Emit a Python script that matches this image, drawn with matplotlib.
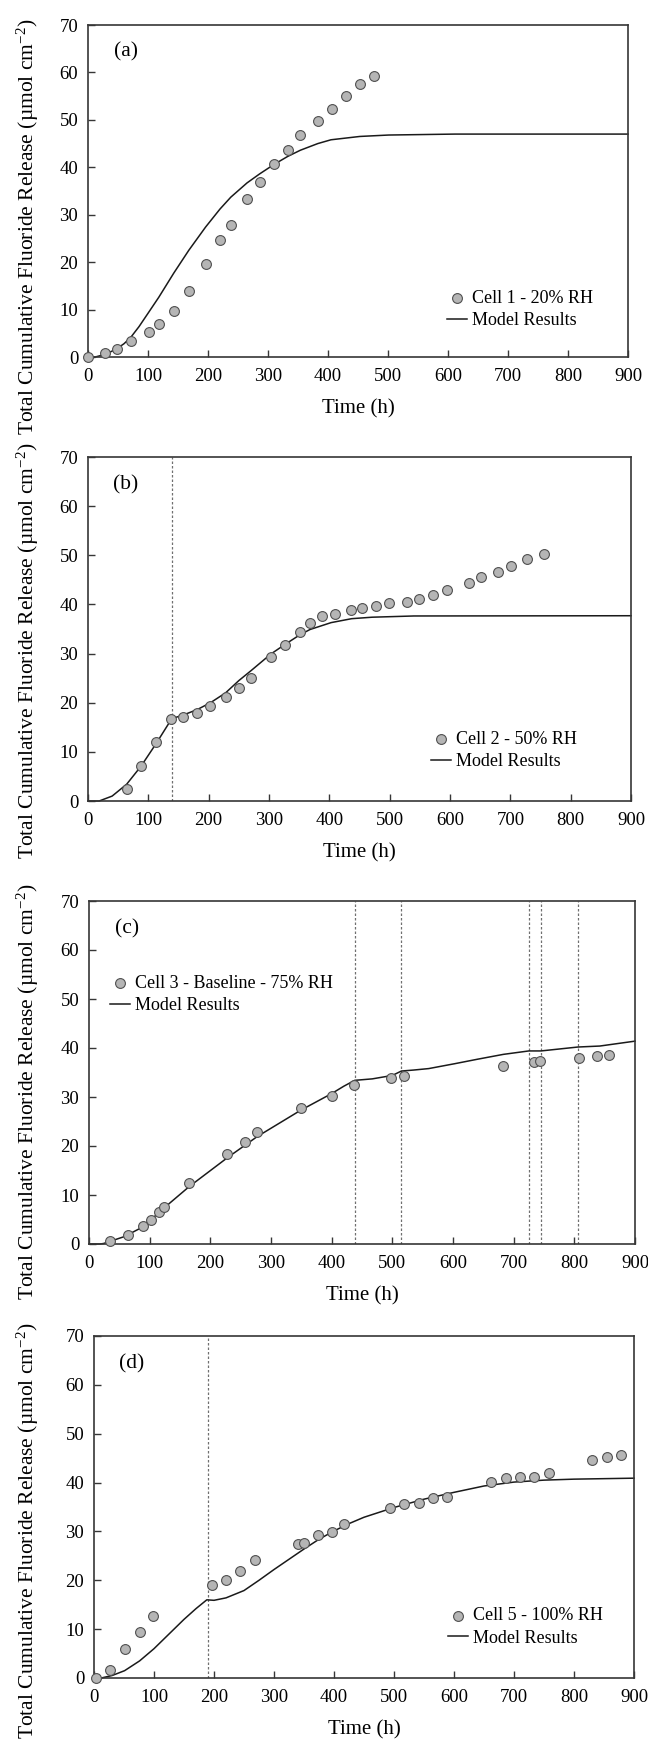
import numpy as np
import matplotlib
matplotlib.use('Agg')
import matplotlib.pyplot as plt

plt.rcParams['font.family'] = ['Liberation Serif', 'DejaVu Serif']
plt.rcParams['mathtext.fontset'] = 'custom'
plt.rcParams['mathtext.rm'] = 'Liberation Serif'
plt.rcParams['mathtext.it'] = 'Liberation Serif:italic'

# ---- data ----
# (a) Cell 1 - 20% RH
t_a = [0, 29, 48, 71, 101, 118, 143, 168, 196, 220, 238, 265, 286, 310, 333, 354, 383, 406, 430, 453, 477]
f_a = [0, 0.8, 1.75, 3.3, 5.25, 6.9, 9.6, 13.9, 19.6, 24.6, 27.9, 33.4, 36.8, 40.6, 43.7, 46.8, 49.7, 52.2, 55.0, 57.5, 59.2]
mt_a = [0, 12, 30, 48, 60, 71, 85, 101, 118, 143, 168, 196, 220, 238, 265, 286, 310, 333, 354, 383, 405, 453, 501, 612, 900]
mf_a = [0, 0, 0.6, 1.75, 2.8, 4.1, 6.4, 9.4, 12.6, 17.7, 22.5, 27.4, 31.2, 33.7, 36.7, 38.6, 40.6, 42.3, 43.6, 45.0, 45.8, 46.5, 46.8, 47.0, 47.0]
vl_a = []

# (b) Cell 2 - 50% RH
t_b = [64, 88, 113, 137, 158, 181, 203, 228, 250, 270, 303, 327, 351, 368, 388, 410, 436, 454, 478, 499,
       528, 548, 571, 595, 631, 652, 679, 701, 727, 756]
f_b = [2.5, 7.1, 12.0, 16.6, 17.1, 18.0, 19.4, 21.1, 23.0, 25.1, 29.4, 31.8, 34.3, 36.2, 37.7, 38.1, 38.9, 39.2, 39.7, 40.2,
       40.4, 41.1, 42.0, 43.0, 44.3, 45.5, 46.6, 47.8, 49.2, 50.3]
mt_b = [0, 18.5, 40, 64, 88, 113, 137, 140, 158, 181, 203, 228, 250, 270, 303, 327, 351, 368, 403, 437, 471, 540, 900]
mf_b = [0, 0, 1.0, 3.4, 7.1, 11.7, 16.4, 16.8, 17.5, 18.6, 20.0, 22.0, 24.5, 26.5, 29.9, 31.9, 33.8, 34.9, 36.3, 37.1, 37.4, 37.65, 37.7]
vl_b = [140]

# (c) Cell 3 - Baseline - 75% RH
t_c = [35, 65, 89, 102, 115, 123, 165, 228, 257, 277, 349, 400, 436, 498, 520, 683, 733, 743, 808, 837, 857]
f_c = [0.6, 1.8, 3.7, 5.0, 6.6, 7.6, 12.4, 18.3, 20.9, 22.8, 27.7, 30.3, 32.4, 33.8, 34.2, 36.3, 37.1, 37.3, 37.9, 38.3, 38.6]
mt_c = [0, 18, 24, 58, 89, 126, 165, 228, 277, 349, 400, 420, 438, 467, 500, 515, 535, 560, 603, 640, 683, 725, 745, 806, 842, 900]
mf_c = [0, 0, 0.1, 1.5, 3.5, 7.6, 11.7, 17.6, 21.9, 27.3, 30.7, 32.2, 33.4, 33.7, 34.4, 35.3, 35.5, 35.8, 36.8, 37.7, 38.7, 39.4, 39.4, 40.2, 40.4, 41.4]
vl_c = [438, 515, 725, 745, 806]

# (d) Cell 5 - 100% RH
t_d = [3, 27, 51, 76, 99, 196, 220, 244, 268, 340, 350, 373, 397, 417, 493, 517, 541, 565, 589,
       662, 686, 710, 734, 759, 830, 855, 879]
f_d = [0.1, 1.7, 6.0, 9.4, 12.7, 19.1, 20.0, 22.0, 24.1, 27.5, 27.7, 29.2, 29.9, 31.6, 34.8, 35.7, 35.9, 36.9, 37.0,
       40.1, 41.0, 41.2, 41.2, 42.0, 44.6, 45.2, 45.7]
mt_d = [0, 12, 30, 51, 76, 100, 125, 150, 170, 188, 200, 220, 250, 275, 300, 325, 350, 375, 400, 425, 450, 500,
        550, 600, 650, 700, 750, 800, 900]
mf_d = [0, 0, 0.5, 1.5, 3.5, 6.0, 9.0, 12.0, 14.2, 16.0, 15.9, 16.4, 17.9, 20.0, 22.2, 24.3, 26.4, 28.4, 30.1, 31.6, 32.9, 34.9,
        36.6, 38.0, 39.3, 40.1, 40.5, 40.7, 40.9]
vl_d = [190]

labels = ['Cell 1 - 20% RH', 'Cell 2 - 50% RH', 'Cell 3 - Baseline - 75% RH', 'Cell 5 - 100% RH']
letters = ['(a)', '(b)', '(c)', '(d)']

# ---- layout (pixel boxes: left, right, top, bottom) ----
W, H = 648, 1743
boxes = [(88, 628, 25, 357), (88, 631, 457, 801), (89, 635, 901, 1244), (94, 634, 1336, 1678)]
ylab_y = [227, 651, 1092, 1531]
# legend anchor (axes fraction): handle start x, center y
leg_pos = [(0.665, 0.143), (0.632, 0.147), (0.038, 0.728), (0.655, 0.149)]

panels = [(t_a, f_a, mt_a, mf_a, vl_a), (t_b, f_b, mt_b, mf_b, vl_b),
          (t_c, f_c, mt_c, mf_c, vl_c), (t_d, f_d, mt_d, mf_d, vl_d)]

edge = '#363636'
fig = plt.figure(figsize=(W / 100, H / 100), dpi=100)

for i, (t, f, mt, mf, vl) in enumerate(panels):
    l, r, tp, b = boxes[i]
    ax = fig.add_axes([l / W, 1 - b / H, (r - l) / W, (b - tp) / H])
    for v in vl:
        ax.axvline(v, color='#707070', lw=0.9, ls=(0, (2, 1.6)), zorder=1)
    ax.plot(mt, mf, color='#1a1a1a', lw=1.1, label='Model Results', zorder=2, clip_on=False)
    ax.scatter(t, f, s=50, facecolor='#b5b5b5', edgecolor='#505050', linewidths=0.8,
               label=labels[i], zorder=3, clip_on=False)
    ax.set_xlim(0, 900)
    ax.set_ylim(0, 70)
    ax.set_xticks(np.arange(0, 901, 100))
    ax.set_yticks(np.arange(0, 71, 10))
    ax.tick_params(direction='in', length=5, width=1, color=edge, labelsize=13.5)
    ax.tick_params(axis='x', pad=8)
    ax.tick_params(axis='y', pad=7)
    for s in ax.spines.values():
        s.set_color(edge)
        s.set_linewidth(1.2)
    ax.set_xlabel('Time (h)', fontsize=15, labelpad=10)
    ax.text(0.07, 0.92, letters[i], transform=ax.transAxes, fontsize=15.5, ha='center', va='center')
    h, lb = ax.get_legend_handles_labels()
    ax.legend(h[::-1], lb[::-1], loc='center left', bbox_to_anchor=leg_pos[i], frameon=False,
              fontsize=13, handlelength=1.1, handletextpad=0.3, labelspacing=0.3,
              borderpad=0, borderaxespad=0)
    fig.text(28 / W, 1 - ylab_y[i] / H, 'Total Cumulative Fluoride Release (µmol cm$^{-2}$)',
             rotation=90, ha='center', va='center', fontsize=15.5)

fig.savefig('out.png', dpi=100)
